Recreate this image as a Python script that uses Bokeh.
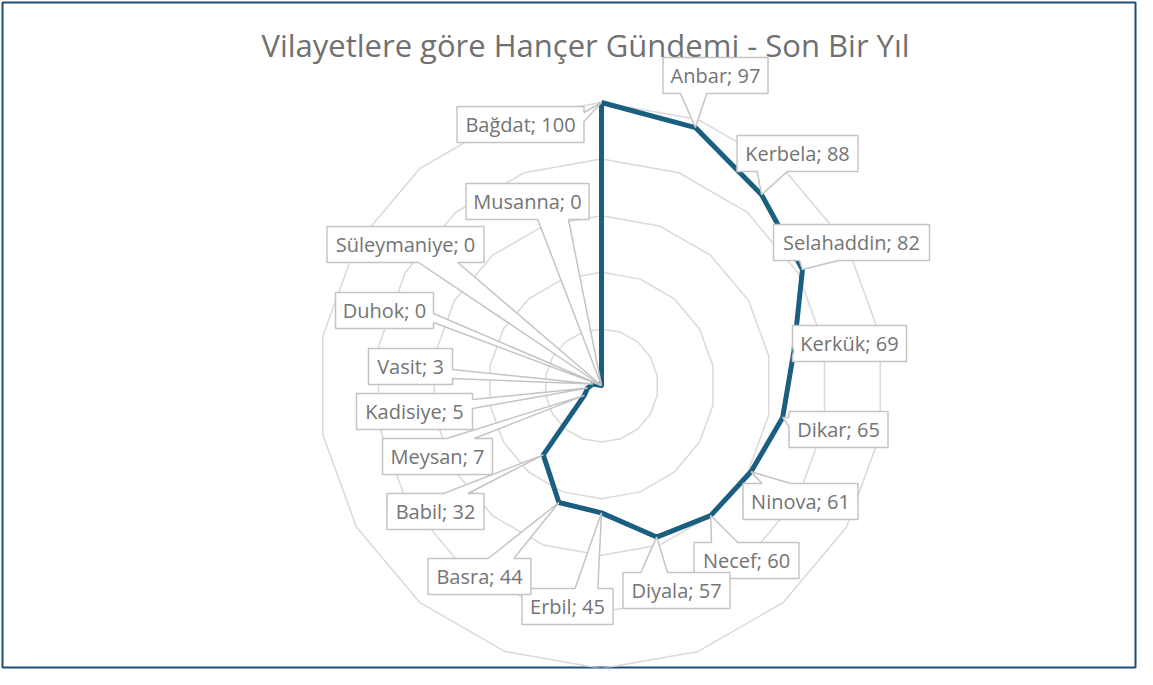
import math
from bokeh.plotting import figure
from bokeh.models import Range1d
from bokeh.core.properties import value
from bokeh.embed import file_html
from bokeh.resources import INLINE

# ---------------- data ----------------
categories = ["Bağdat", "Anbar", "Kerbela", "Selahaddin", "Kerkük", "Dikar",
              "Ninova", "Necef", "Diyala", "Erbil", "Basra", "Babil",
              "Meysan", "Kadisiye", "Vasit", "Duhok", "Süleymaniye", "Musanna"]
values = [100, 97, 88, 82, 69, 65, 61, 60, 57, 45, 44, 32, 7, 5, 3, 0, 0, 0]
ring_levels = [20, 40, 60, 80, 100]
title_text = "Vilayetlere göre Hançer Gündemi - Son Bir Yıl"

# ---------------- layout / style ----------------
R_PX = 283.0          # pixel radius of the max ring
MAX_V = 100.0
# label box centres, px from chart centre (x right, y down)
label_cx = [-81, 114, 196, 250, 248, 237, 199, 145, 75, -34, -122, -166, -164, -187, -191, -217, -196, -74]
label_cy = [-261, -310, -232, -143, -42, 44, 116, 175, 205, 221, 191, 126, 71, 26, -19, -75, -141, -184]
label_w = [127, 105, 121, 156, 114, 99, 115, 105, 107, 91, 103, 97, 110, 116, 84, 98, 157, 123]
label_h = 36

FONT = "Open Sans"
SERIES_COLOR = "#1B5F80"
GRID_COLOR = "#D9D9D9"
BOX_COLOR = "#C4C4C4"
TEXT_COLOR = "#747474"

W, H, MB = 1137, 669, 2
CX, CY = 601, 385   # chart centre in figure pixels
p = figure(width=W, height=H, output_backend="svg", toolbar_location=None,
           x_range=Range1d(MB - CX, W - MB - CX), y_range=Range1d(CY - (H - MB), CY - MB),
           min_border=MB, background_fill_color="white", border_fill_color="white")
p.axis.visible = False
p.grid.visible = False
p.outline_line_color = "#1F4E79"
p.outline_line_width = 2

n = len(categories)
angles = [2 * math.pi * i / n for i in range(n)]

def polar(v, a):
    r = v / MAX_V * R_PX
    return r * math.sin(a), r * math.cos(a)

# grid rings
rx, ry = [], []
for lv in ring_levels:
    pts = [polar(lv, a) for a in angles]
    rx.append([q[0] for q in pts] + [pts[0][0]])
    ry.append([q[1] for q in pts] + [pts[0][1]])
p.multi_line(rx, ry, line_color=GRID_COLOR, line_width=1.5)

# series
pts = [polar(v, a) for v, a in zip(values, angles)]
sx = [q[0] for q in pts] + [pts[0][0]]
sy = [q[1] for q in pts] + [pts[0][1]]
p.line(sx, sy, line_color=SERIES_COLOR, line_width=5, line_join="round")

# callout boxes (wedgeRectCallout geometry), computed in screen-like coords (y down)
bx, by, tx_, ty_, texts = [], [], [], [], []
for i in range(n):
    cx, cy = label_cx[i], label_cy[i]
    w, h = label_w[i], label_h
    tipx, tipy = pts[i][0], -pts[i][1]
    l, r, t, b = cx - w / 2, cx + w / 2, cy - h / 2, cy + h / 2
    dxp, dyp = tipx - cx, tipy - cy
    dq = dxp * h / w
    dz = abs(dyp) - abs(dq)
    xg1, xg2 = (7, 10) if dxp > 0 else (2, 5)
    yg1, yg2 = (7, 10) if dyp > 0 else (2, 5)
    x1, x2 = l + w * xg1 / 12, l + w * xg2 / 12
    y1, y2 = t + h * yg1 / 12, t + h * yg2 / 12
    path = [(l, t)]
    if dz > 0 and dyp < 0:
        path += [(x1, t), (tipx, tipy), (x2, t)]
    path += [(r, t)]
    if dz <= 0 and dxp > 0:
        path += [(r, y1), (tipx, tipy), (r, y2)]
    path += [(r, b)]
    if dz > 0 and dyp > 0:
        path += [(x2, b), (tipx, tipy), (x1, b)]
    path += [(l, b)]
    if dz <= 0 and dxp < 0:
        path += [(l, y2), (tipx, tipy), (l, y1)]
    bx.append([q[0] for q in path])
    by.append([-q[1] for q in path])
    tx_.append(cx)
    ty_.append(-cy)
    texts.append(f"{categories[i]}; {values[i]}")

p.patches(bx, by, fill_color="white", line_color=BOX_COLOR, line_width=1.5)
p.text(tx_, ty_, text=texts, text_align="center", text_baseline="middle",
       text_font=value(FONT), text_font_size="20px", text_color=TEXT_COLOR)

# title
p.text([-16], [341], text=[title_text], text_align="center", text_baseline="middle",
       text_font=value(FONT), text_font_size="31px", text_color="#707070")

open("out.html", "w").write(file_html(p, INLINE))
